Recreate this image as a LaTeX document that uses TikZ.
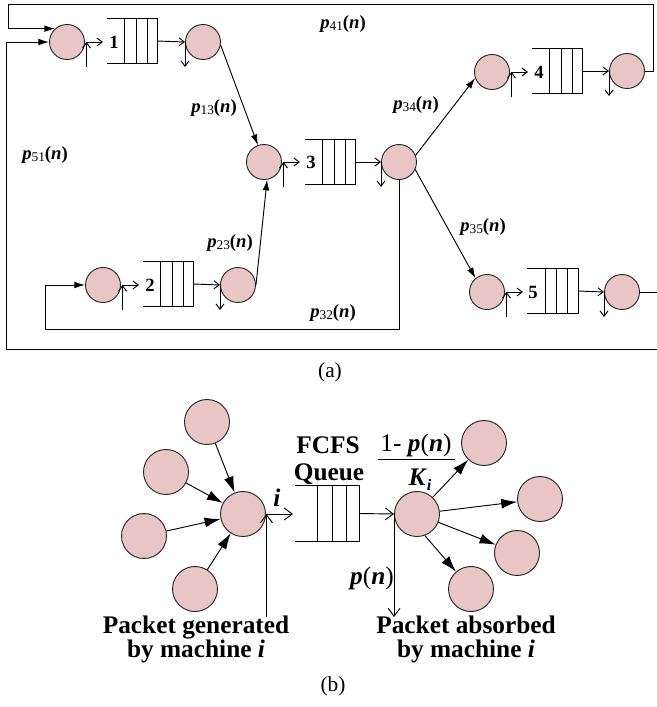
\documentclass[tikz,border=0pt]{standalone}
\usepackage{fontspec}
\setmainfont{Liberation Serif}
\usetikzlibrary{arrows.meta,calc}
\definecolor{pinkf}{RGB}{233,198,198}
\newcommand\bi[1]{\textbf{\textit{#1}}}
\newcommand\plab[1]{\bi{p}\raisebox{-1.5pt}{\fontsize{10}{10}\selectfont #1}\textbf{(}\bi{n}\textbf{)}}
\begin{document}
\begin{tikzpicture}[x=0.75pt,y=-0.75pt,line width=0.7pt,
  circA/.style={circle,draw=black!85,fill=pinkf,minimum size=26.25pt,inner sep=0pt},
  circB/.style={circA,minimum size=33.75pt},
  qboxA/.style={minimum width=37.5pt,minimum height=32.5pt,inner sep=0pt},
  qboxB/.style={minimum width=48pt,minimum height=41.25pt,inner sep=0pt},
  farrow/.style={-{Latex[length=8pt,width=5pt]}},
  farrowB/.style={-{Latex[length=12pt,width=7.5pt]}},
  obarb/.style={-{Straight Barb[length=4pt,width=6pt]}},
  obarbB/.style={-{Straight Barb[length=6pt,width=9pt]}},
  lab/.style={font=\fontsize{14}{16}\selectfont,inner sep=0pt},
  numlab/.style={font=\fontsize{14}{16}\selectfont\bfseries,inner sep=0pt},
  biglab/.style={font=\fontsize{19}{18}\selectfont\bfseries,align=center,inner sep=0pt},
  caplab/.style={font=\fontsize{16}{18}\selectfont,inner sep=0pt}]
\useasboundingbox (0,0) rectangle (657,707);

% ---------- part (a) ----------
\node[circA] (ci1) at (67,42) {};
\node[circA] (co1) at (203,42) {};
\node[circA] (ci2) at (103,285) {};
\node[circA] (co2) at (238,285) {};
\node[circA] (ci3) at (264,162) {};
\node[circA] (co3) at (399,162) {};
\node[circA] (ci4) at (492,72) {};
\node[circA] (co4) at (627,71) {};
\node[circA] (ci5) at (487,292) {};
\node[circA] (co5) at (622,292) {};

\node[qboxA] (q1) at (132,41) {};
\node[qboxA] (q2) at (168,284) {};
\node[qboxA] (q3) at (330,162) {};
\node[qboxA] (q4) at (557,71) {};
\node[qboxA] (q5) at (552.5,291) {};

\node[numlab] (n1) at (114,42) {1};
\node[numlab] (n2) at (150,285) {2};
\node[numlab] (n3) at (311,162) {3};
\node[numlab] (n4) at (539,72) {4};
\node[numlab] (n5) at (533,292) {5};

\foreach \n in {1,...,5}{
  \draw[obarb] ($(ci\n.east)+(1.5,25)$) -- ($(ci\n.east)+(1.5,0)$);
  \draw[obarb] ($(ci\n.east)+(1.5,0)$) -- ($(ci\n.east)+(18,0)$);
  \draw[obarb] (q\n.east) -- (co\n.west);
  \draw[obarb] (co\n.west) -- ($(co\n.west)+(0,25)$);
}

\draw[farrow] (co1.-10) -- (ci3.110);
\draw[farrow] (co2.east) -- (ci3.-80);
\draw[farrow] (co3.22) -- (ci4.200);
\draw[farrow] (co3.-25) -- (ci5.130);

\coordinate (k41a) at (653,4);
\coordinate (k41b) at (8,4);
\draw[farrow] (co4.east) -| (k41a) -- (k41b) |- (ci1.132);
\coordinate (k51a) at (659,349);
\coordinate (k51b) at (6,349);
\draw[farrow] (co5.east) -| (k51a) -- (k51b) |- (ci1.west);
\coordinate (k32a) at (45,329);
\draw[farrow] (co3.south) |- (k32a) |- (ci2.west);

\node[lab] (l41) at (343,24) {\plab{41}};
\node[lab] (l51) at (45,155) {\plab{51}};
\node[lab] (l13) at (214,108) {\plab{13}};
\node[lab] (l23) at (230,243) {\plab{23}};
\node[lab] (l32) at (333,313) {\plab{32}};
\node[lab] (l34) at (416,105) {\plab{34}};
\node[lab] (l35) at (483,227) {\plab{35}};

\node[caplab] (capa) at (330,372) {(a)};

% ---------- part (b) ----------
\node[circB] (cb) at (243,514) {};
\node[circB] (t1) at (207,422) {};
\node[circB] (t2) at (166,472) {};
\node[circB] (t3) at (144,536) {};
\node[circB] (t4) at (195,589) {};
\node[circB] (cr) at (417,514) {};
\node[circB] (r1) at (484,443) {};
\node[circB] (r2) at (540,499) {};
\node[circB] (r3) at (517,553) {};
\node[circB] (r4) at (471,589) {};
\node[qboxB] (qb) at (327,513.5) {};

\foreach \t in {t1,t2,t3,t4} \draw[farrowB] (\t) -- (cb);
\draw[farrowB] (cr) -- (r1);
\draw[farrowB] (cr) -- (r2);
\draw[farrowB] (cr) -- (r3);
\draw[farrowB] (cr.-70) -- (r4);

\draw[obarbB] ($(cb.east)+(0.5,103)$) -- ($(cb.east)+(0.5,0)$);
\draw[obarbB] ($(cb.east)+(0.5,0)$) -- ($(cb.east)+(27,0)$);
\draw[obarbB] (qb.east) -- (cr.west);
\draw[obarbB] (cr.west) -- ($(cr.west)+(0,103)$);

\foreach \q in {q1,q2,q3,q4,q5,qb}{
  \draw (\q.north west) -- (\q.north east) -- (\q.south east) -- (\q.south west);
  \foreach \f in {0.36,0.58,0.8}
    \draw ($(\q.north west)!\f!(\q.north east)$) -- ($(\q.south west)!\f!(\q.south east)$);
}

\node[biglab] (li) at (277,498) {\bi{i}};
\node[biglab] (fcfs) at (328,445) {FCFS};
\node[biglab] (queue) at (329,474) {Queue};
\node[inner sep=0pt,font=\fontsize{19}{18}\selectfont] (num) at (416,445) {1- \bi{p}(\bi{n})};
\draw ($(num.south west)+(-2,3)$) -- ($(num.south east)+(3,3)$);
\node[biglab] (den) at (420,480) {\bi{K}\raisebox{-4pt}{\fontsize{12}{12}\selectfont\bi{i}}};
\node[inner sep=0pt,font=\fontsize{19}{18}\selectfont] (pn) at (372,578) {\bi{p}(\bi{n})};
\node[biglab] (gen) at (196,639) {Packet generated\\by machine \bi{i}};
\node[biglab] (abs) at (466,639) {Packet absorbed\\by machine \bi{i}};
\node[caplab] (capb) at (333,686) {(b)};
\end{tikzpicture}
\end{document}
